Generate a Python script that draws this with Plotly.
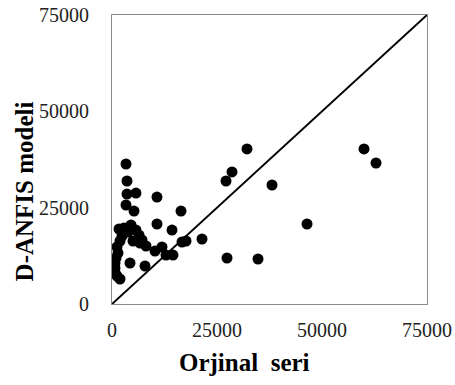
import plotly.graph_objects as go

orjinal_seri = [3330, 3570, 3570, 5710, 10710, 3330, 5240, 16430, 10710, 14290,
                1670, 2860, 4520, 5710, 6430, 7140, 8100, 1900, 1190, 10240,
                11900, 12860, 14520, 16670, 17620, 21430, 4290, 7860, 1430, 950,
                710, 710, 710, 1190, 1900, 27380, 34760, 27140, 28570, 32140,
                38100, 46430, 60000, 62860, 6670, 3810, 2380, 5000]
danfis_modeli = [36330, 31920, 28540, 28800, 27760, 25690, 24130, 24130, 20760, 19200,
                 19460, 19720, 20500, 19200, 17900, 16610, 15050, 16350, 14790, 13750,
                 14790, 12710, 12710, 16090, 16350, 16870, 10640, 9860, 13230, 11940,
                 10640, 9340, 8300, 7270, 6490, 11940, 11680, 31920, 34260, 40230,
                 30880, 20760, 40230, 36590, 15830, 18680, 17640, 16350]
line_x = [0, 75000]
line_y = [0, 75000]
tick_vals = [0, 25000, 50000, 75000]
tick_text = ["0", "25000", "50000", "75000"]
x_title = "Orjinal  seri"
y_title = "D-ANFIS modeli"

fig = go.Figure()
fig.add_trace(go.Scatter(x=line_x, y=line_y, mode="lines",
                         line=dict(color="black", width=2), showlegend=False,
                         cliponaxis=False))
fig.add_trace(go.Scatter(x=orjinal_seri, y=danfis_modeli, mode="markers",
                         marker=dict(color="black", size=11), showlegend=False))

axis_common = dict(range=[0, 75000], tickvals=tick_vals, ticktext=tick_text,
                   showgrid=False, zeroline=False, showline=True, mirror=True,
                   linecolor="#8c8c8c", linewidth=1, ticks="", automargin=False,
                   ticklabeloverflow="allow",
                   tickfont=dict(family="Liberation Serif", size=20, color="#222"))
fig.update_xaxes(**axis_common, ticklabelstandoff=8)
fig.update_yaxes(**axis_common, ticklabelstandoff=18)

title_font = dict(family="Liberation Serif", size=25, color="black", weight="bold")
fig.add_annotation(text=x_title, xref="paper", yref="paper", x=0.422, y=-0.204,
                   showarrow=False, font=title_font, xanchor="center", yanchor="middle")
fig.add_annotation(text=y_title, xref="paper", yref="paper", x=-0.279, y=0.39,
                   showarrow=False, font=title_font, textangle=-90,
                   xanchor="center", yanchor="middle")
fig.update_layout(width=455, height=385, margin=dict(l=112, r=28, t=15, b=81),
                  plot_bgcolor="white", paper_bgcolor="white")
fig.write_html("out.html", config={"displayModeBar": False},
               post_script="document.body.style.margin='0';")
